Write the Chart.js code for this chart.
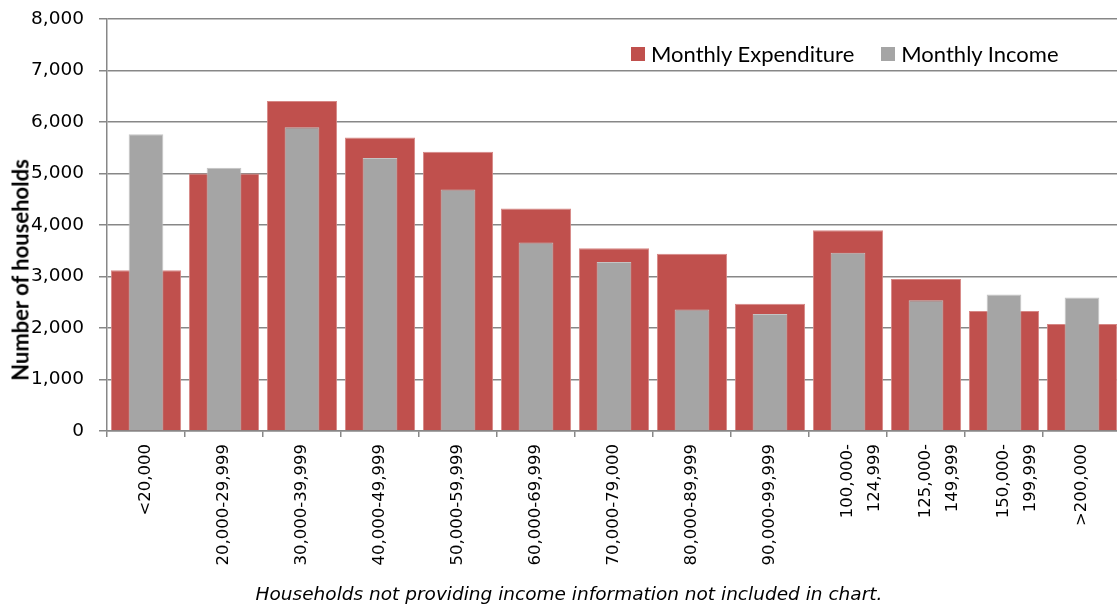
<!DOCTYPE html>
<html>
<head>
<meta charset="utf-8">
<script src="https://cdn.jsdelivr.net/npm/chart.js@4.4.1/dist/chart.umd.min.js"></script>
<style>
  html, body { margin: 0; padding: 0; background: #fff; overflow: hidden; }
  #wrap { position: relative; width: 1125px; height: 605px; }
  #yTitle {
    position: absolute; left: 20px; top: 270px;
    transform: translate(-50%, -50%) rotate(-90deg);
    white-space: nowrap; font: bold 22px Lato, sans-serif; color: #000;
  }
  #legend {
    position: absolute; left: 631px; top: 40px; display: flex; align-items: center;
    font: 22px Lato, sans-serif; color: #000; white-space: nowrap;
  }
  #legend span.box { display: inline-block; width: 14px; height: 14px; margin-right: 6px; }
  #legend span.item { display: inline-flex; align-items: center; margin-right: 27px; }
  #footer {
    position: absolute; left: 569px; top: 583px; transform: translateX(-50%);
    white-space: nowrap; font: italic 18.5px "DejaVu Sans", sans-serif; line-height: 22px; color: #000;
  }
</style>
</head>
<body>
<div id="wrap">
  <canvas id="grafiek"></canvas>
  <div id="yTitle">Number of households</div>
  <div id="legend"></div>
  <div id="footer">Households not providing income information not included in chart.</div>
</div>
<script>
const categorieen = [
  "<20,000", "20,000-29,999", "30,000-39,999", "40,000-49,999", "50,000-59,999",
  "60,000-69,999", "70,000-79,000", "80,000-89,999", "90,000-99,999",
  ["100,000-", "124,999"], ["125,000-", "149,999"], ["150,000-", "199,999"], ">200,000"
];
const uitgaven = [3120, 5000, 6410, 5700, 5420, 4320, 3550, 3440, 2470, 3900, 2950, 2330, 2080];
const inkomen = [5760, 5110, 5900, 5300, 4690, 3660, 3280, 2360, 2270, 3460, 2540, 2650, 2590];
const reeksNamen = ["Monthly Expenditure", "Monthly Income"];
const reeksKleuren = ["#c0504d", "#a5a5a5"];
const yTicks = [0, 1000, 2000, 3000, 4000, 5000, 6000, 7000, 8000];

const grijs = "#878787";

// legend as html, inside the plot area
const legend = document.getElementById("legend");
reeksNamen.forEach((naam, i) => {
  const item = document.createElement("span");
  item.className = "item";
  item.innerHTML = `<span class="box" style="background:${reeksKleuren[i]}"></span>${naam}`;
  legend.appendChild(item);
});

const ctx = document.getElementById("grafiek").getContext("2d");
new Chart(ctx, {
  type: "bar",
  data: {
    labels: categorieen,
    datasets: [
      {
        label: reeksNamen[0],
        data: uitgaven,
        backgroundColor: reeksKleuren[0],
        borderColor: "#d68785",
        borderWidth: 1,
        barPercentage: 0.9,
        categoryPercentage: 1,
        grouped: false,
        order: 1
      },
      {
        label: reeksNamen[1],
        data: inkomen,
        backgroundColor: reeksKleuren[1],
        borderColor: "#c4c4c4",
        borderWidth: 1,
        barPercentage: 0.445,
        categoryPercentage: 1,
        grouped: false,
        order: 0
      }
    ]
  },
  options: {
    responsive: true,
    maintainAspectRatio: false,
    animation: false,
    layout: { padding: { top: 19, left: 0, right: 4, bottom: 34 } },
    plugins: {
      legend: { display: false },
      tooltip: { enabled: false }
    },
    scales: {
      x: {
        afterFit: scale => { scale.height = 140; },
        grid: { display: true, drawOnChartArea: false, drawTicks: true, tickLength: 6, color: grijs, lineWidth: 1.5, offset: true },
        border: { display: true, color: grijs, width: 1.5 },
        ticks: {
          minRotation: 90, maxRotation: 90, autoSkip: false, padding: 7, color: "#000",
          font: { family: "DejaVu Sans", size: 16.5, lineHeight: 1.6 }
        }
      },
      y: {
        min: 0, max: 8000,
        afterFit: scale => {
          scale.width = 107;
          scale.paddingTop = 0;
          scale.paddingBottom = 0;
        },
        afterBuildTicks: scale => { scale.ticks = yTicks.map(v => ({ value: v })); },
        grid: { color: grijs, lineWidth: 1.5, drawTicks: true, tickLength: 8 },
        border: { display: true, color: grijs, width: 1.5 },
        ticks: {
          padding: 15, color: "#000",
          font: { family: "DejaVu Sans", size: 18.5 },
          callback: value => value.toLocaleString("en-US")
        }
      }
    }
  }
});
</script>
</body>
</html>
